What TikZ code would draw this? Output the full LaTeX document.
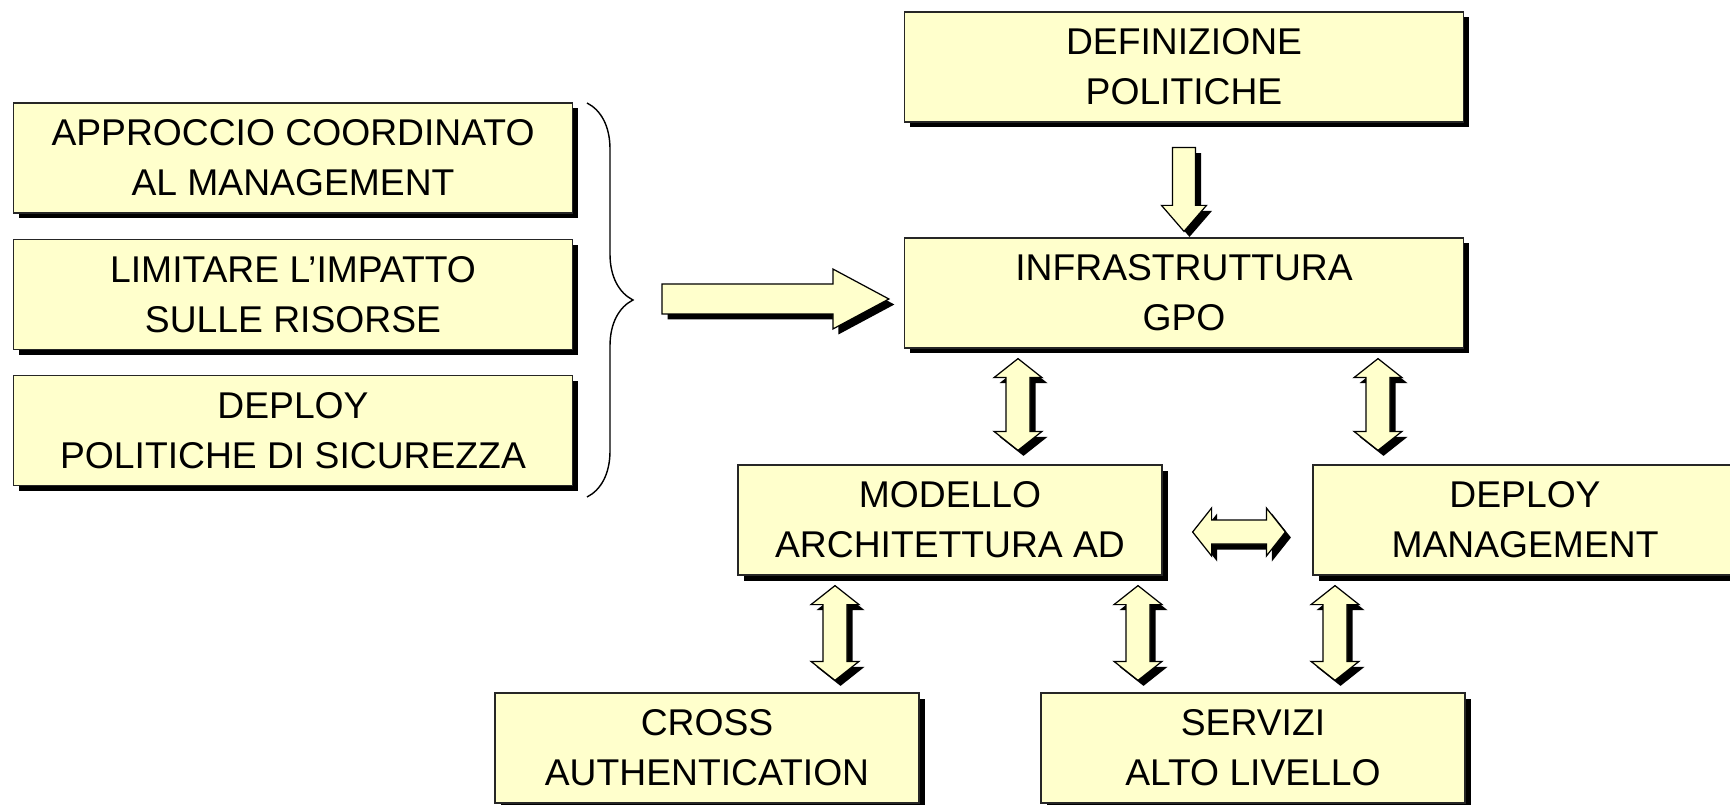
\documentclass[tikz,border=0pt]{standalone}
\usepackage{fontspec}
\setmainfont{Liberation Sans}
\usetikzlibrary{calc,positioning,shadows,decorations.pathreplacing}
\definecolor{boxfill}{RGB}{255,255,204}

\tikzset{
  shadowed/.style={drop shadow={shadow xshift=0.55mm,shadow yshift=-0.55mm,opacity=1,fill=black}},
  gpobox/.style={draw=black!85,line width=0.35pt,fill=boxfill,shadowed,align=center,
    minimum height=11mm,inner sep=0pt,font=\fontsize{10.6}{14.2}\selectfont},
  widebox/.style={gpobox,minimum width=55.9mm},
  narrowbox/.style={gpobox,minimum width=42.4mm},
  blockarrow/.style={draw=black,line width=0.35pt,fill=boxfill,shadowed},
  curly/.style={line width=0.4pt,decorate,decoration={brace,amplitude=4.6mm}}
}

% single block arrow: start, end, head length, head half width, shaft half width
\newcommand{\onearrow}[5]{%
  \coordinate (ba-h) at ($(#2)!#3!(#1)$);
  \path[blockarrow] ($(#1)!#5!90:(#2)$) -- ($(ba-h)!#5!-90:(#1)$) -- ($(ba-h)!#4!-90:(#1)$)
    -- (#2) -- ($(ba-h)!#4!90:(#1)$) -- ($(ba-h)!#5!90:(#1)$) -- ($(#1)!#5!-90:(#2)$) -- cycle;
}
% double block arrow between two coordinates
\newcommand{\twoarrow}[2]{%
  \coordinate (ba-a) at ($(#1)!1.9mm!(#2)$);
  \coordinate (ba-b) at ($(#2)!1.9mm!(#1)$);
  \path[blockarrow] (#1) -- ($(ba-a)!2.4mm!90:(#2)$) -- ($(ba-a)!1.2mm!90:(#2)$)
    -- ($(ba-b)!1.2mm!-90:(#1)$) -- ($(ba-b)!2.4mm!-90:(#1)$) -- (#2)
    -- ($(ba-b)!2.4mm!90:(#1)$) -- ($(ba-b)!1.2mm!90:(#1)$)
    -- ($(ba-a)!1.2mm!-90:(#2)$) -- ($(ba-a)!2.4mm!-90:(#2)$) -- cycle;
}

\begin{document}
\begin{tikzpicture}[x=0.1mm,y=-0.1mm]
    \useasboundingbox (0,0) rectangle (1730,805);

    % GPO structure
    \node[widebox] (definizione) at (1184,67) {DEFINIZIONE\\POLITICHE};
    \node[widebox] (infra) at (1184,293) {INFRASTRUTTURA\\GPO};
    \node[narrowbox] (modello) at (950,520) {MODELLO\\ARCHITETTURA AD};
    \node[narrowbox] (deploy_mgmt) at (1525,520) {DEPLOY\\MANAGEMENT};
    \node[narrowbox] (cross) at (707,748) {CROSS\\AUTHENTICATION};
    \node[narrowbox] (servizi) at (1253,748) {SERVIZI\\ALTO LIVELLO};

    % Goals
    \node[widebox] (approccio) at (293,158) {APPROCCIO COORDINATO\\AL MANAGEMENT};
    \node[widebox,below=2.5mm of approccio] (limitare) {LIMITARE L’IMPATTO\\SULLE RISORSE};
    \node[widebox,below=2.5mm of limitare] (deploy_pol) {DEPLOY\\POLITICHE DI SICUREZZA};
    \draw[curly] (587,103) coordinate (brace_top) -- (587,497) coordinate (brace_bottom);

    % Arrow ends
    \coordinate (goals_start) at (662,299);
    \coordinate (goals_end) at ($(infra.west)+(-15,6)$);
    \coordinate (def_out) at ($(definizione.south)+(0,25)$);
    \coordinate (infra_in) at ($(infra.north)+(0,-6)$);
    \coordinate (a1_top) at ($(infra.south -| 1018,0)+(0,10)$);
    \coordinate (a1_bot) at ($(modello.north -| 1018,0)+(0,-14)$);
    \coordinate (a2_top) at ($(infra.south -| 1378,0)+(0,10)$);
    \coordinate (a2_bot) at ($(deploy_mgmt.north -| 1378,0)+(0,-14)$);
    \coordinate (a3_left) at ($(modello.east |- 0,532)+(30,0)$);
    \coordinate (a3_right) at ($(deploy_mgmt.west |- 0,532)+(-27,0)$);
    \coordinate (a4_top) at ($(modello.south -| 835,0)+(0,10)$);
    \coordinate (a4_bot) at ($(cross.north -| 835,0)+(0,-12)$);
    \coordinate (a5_top) at ($(modello.south -| 1138,0)+(0,10)$);
    \coordinate (a5_bot) at ($(servizi.north -| 1138,0)+(0,-12)$);
    \coordinate (a6_top) at ($(deploy_mgmt.south -| 1335,0)+(0,10)$);
    \coordinate (a6_bot) at ($(servizi.north -| 1335,0)+(0,-12)$);

    % Block arrows
    \onearrow{goals_start}{goals_end}{5.6mm}{3mm}{1.5mm}
    \onearrow{def_out}{infra_in}{2.6mm}{2.25mm}{1.15mm}
    \twoarrow{a1_top}{a1_bot}
    \twoarrow{a2_top}{a2_bot}
    \twoarrow{a3_left}{a3_right}
    \twoarrow{a4_top}{a4_bot}
    \twoarrow{a5_top}{a5_bot}
    \twoarrow{a6_top}{a6_bot}
\end{tikzpicture}
\end{document}
